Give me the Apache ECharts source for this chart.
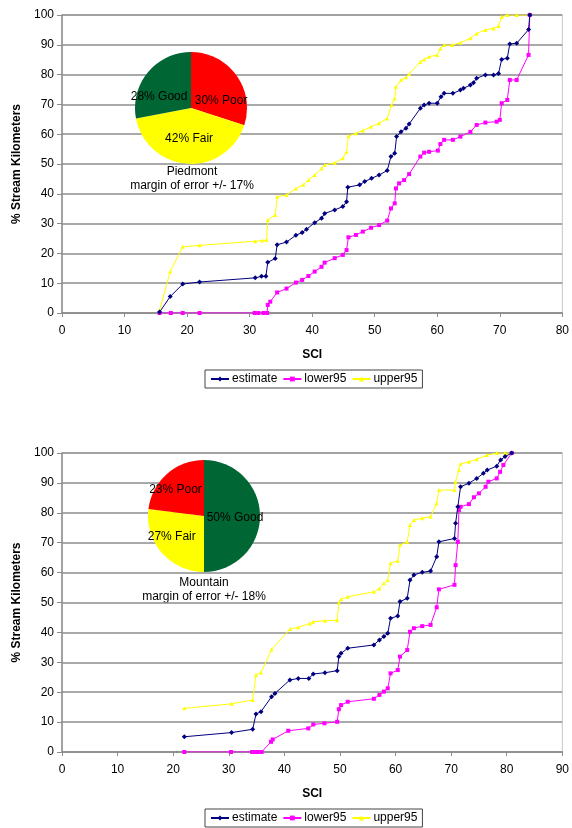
<!DOCTYPE html>
<html>
<head>
<meta charset="utf-8">
<script src="https://cdn.jsdelivr.net/npm/echarts@6/dist/echarts.min.js"></script>
<style>
  html, body { margin: 0; padding: 0; background: #fff; }
  #chart { width: 572px; height: 828px; }
</style>
</head>
<body>
<div id="chart"></div>
<script>
// Piedmont curves: [SCI, % stream km]
const piedmontEstimate = [[15.6,0.3],[17.3,5.5],[19.3,9.7],[22.0,10.4],[30.9,11.8],[31.9,12.3],[32.6,12.3],[32.9,17.0],[34.1,18.3],[34.4,22.9],[35.9,23.8],[37.4,26.1],[38.4,27.0],[39.1,28.1],[40.4,30.3],[41.5,31.8],[42.0,33.4],[43.6,34.6],[44.9,35.7],[45.5,37.3],[45.7,42.2],[47.6,43.0],[48.4,44.1],[49.5,45.2],[50.7,46.3],[52.0,47.8],[52.6,52.5],[53.2,53.6],[53.5,59.2],[54.2,60.8],[55.0,62.0],[55.5,63.4],[57.3,68.7],[57.9,69.8],[58.7,70.4],[60.0,70.4],[60.6,72.6],[61.1,73.7],[62.5,73.7],[63.7,74.8],[64.2,75.4],[65.3,76.5],[65.8,77.3],[66.3,78.8],[67.7,79.9],[69.0,79.9],[69.8,80.4],[70.3,85.1],[71.2,85.5],[71.6,90.3],[72.7,90.5],[74.6,95.1],[74.8,100]];
const piedmontLower = [[15.6,0],[17.4,0],[19.3,0],[22.0,0],[30.8,0],[31.4,0],[32.2,0],[32.8,0],[32.9,2.7],[33.3,3.8],[34.4,6.9],[35.9,8.2],[37.4,10.2],[38.4,11.1],[39.4,12.4],[40.4,13.9],[41.5,15.5],[42.0,16.9],[43.6,18.4],[44.9,19.5],[45.5,21.1],[45.8,25.4],[47.0,26.2],[48.1,27.3],[49.4,28.6],[50.7,29.5],[52.0,31.0],[52.6,35.1],[53.2,36.8],[53.4,41.8],[53.9,43.5],[54.7,44.6],[55.5,46.6],[57.3,52.5],[57.9,53.8],[58.7,54.1],[60.1,54.5],[60.5,56.7],[61.1,58.1],[62.5,58.1],[63.7,59.2],[65.3,60.8],[66.3,63.1],[67.7,63.9],[69.5,64.2],[70.0,64.8],[70.3,70.4],[71.2,71.5],[71.6,78.2],[72.7,78.2],[74.6,86.6],[74.8,100]];
const piedmontUpper = [[15.6,1.0],[17.3,13.9],[19.3,22.2],[22.0,22.7],[30.9,24.1],[32.0,24.3],[32.7,24.5],[32.9,31.2],[34.1,32.9],[34.4,39.0],[35.9,39.6],[37.4,41.8],[38.6,43.0],[39.4,44.6],[40.4,46.3],[41.5,48.5],[42.0,49.7],[43.6,50.4],[44.9,51.9],[45.5,54.1],[45.8,59.4],[47.0,60.3],[48.1,61.2],[49.4,62.5],[50.7,63.7],[52.0,65.3],[52.7,69.8],[53.2,72.0],[53.4,75.9],[54.2,78.2],[55.0,79.1],[55.5,80.2],[57.3,84.3],[57.9,85.1],[58.7,86.0],[60.0,86.6],[60.5,88.8],[61.1,89.9],[62.4,89.9],[63.7,90.7],[65.3,92.2],[66.3,93.8],[67.7,95.0],[69.0,95.5],[69.8,96.3],[70.3,99.4],[71.2,100],[72.7,100],[74.8,100]];

// Mountain curves
const mountainEstimate = [[22.0,5.1],[30.5,6.5],[34.3,7.6],[34.9,12.7],[35.8,13.5],[37.7,18.5],[38.3,19.6],[41.0,24.1],[42.5,24.6],[44.4,24.6],[45.2,26.1],[47.3,26.5],[49.5,27.2],[49.8,31.9],[50.2,33.0],[51.4,34.7],[56.1,35.8],[57.1,37.5],[57.9,38.6],[58.6,39.7],[59.1,44.7],[60.4,45.5],[60.8,50.3],[62.1,51.4],[62.6,57.5],[63.3,59.2],[64.8,60.1],[66.3,60.5],[67.4,65.3],[67.8,70.3],[70.6,71.4],[70.8,76.5],[71.2,82.0],[71.7,88.7],[73.2,89.9],[74.6,91.5],[75.8,93.2],[76.5,94.3],[78.2,95.6],[78.9,97.7],[79.7,98.8],[80.9,100]];
const mountainLower = [[22.0,0],[30.4,0],[34.2,0],[34.6,0],[35.2,0],[35.9,0],[37.6,3.4],[37.9,4.2],[40.7,7.1],[44.3,7.9],[45.2,9.2],[47.2,9.6],[49.5,10.1],[49.8,14.3],[50.2,15.7],[51.4,16.8],[56.1,17.8],[57.1,19.1],[57.9,20.2],[58.6,21.3],[59.1,26.3],[60.4,27.4],[60.8,31.9],[62.1,34.1],[62.6,40.2],[63.3,41.4],[64.8,42.1],[66.3,42.5],[67.4,48.4],[67.8,54.4],[70.6,55.9],[70.8,62.5],[71.2,70.3],[71.4,80.9],[71.7,82.0],[73.2,82.9],[74.1,85.2],[75.0,86.5],[76.2,88.7],[76.7,90.4],[78.2,91.5],[78.8,93.7],[79.4,96.0],[80.9,100]];
const mountainUpper = [[22.0,14.6],[30.5,16.1],[34.3,17.4],[34.9,25.8],[35.8,26.6],[37.7,34.3],[41.0,41.1],[42.5,41.7],[44.6,43.0],[45.2,43.6],[47.3,43.9],[49.5,44.1],[49.8,49.9],[50.2,51.1],[51.4,51.9],[56.1,53.6],[57.1,54.7],[57.9,56.4],[58.6,57.5],[59.1,63.1],[60.4,64.0],[60.8,69.2],[62.1,70.3],[62.6,75.9],[63.3,77.6],[64.8,78.2],[66.3,78.7],[67.4,83.2],[67.8,87.6],[70.6,87.6],[70.8,90.4],[71.4,94.3],[71.7,96.3],[73.2,97.1],[74.6,97.9],[76.4,99.3],[78.2,100],[79.7,100],[80.9,100]];

// condition pies
const conditionColors = { Poor: "#ff0000", Fair: "#ffff00", Good: "#006633" };
const piedmontShares = [["Poor", 30], ["Fair", 42], ["Good", 28]];
const mountainShares = [["Good", 50], ["Fair", 27], ["Poor", 23]];

const seriesNames = ["estimate", "lower95", "upper95"];
const xMax = [80, 90];

const FONT = "Liberation Sans, Arial, sans-serif";
const chart = echarts.init(document.getElementById("chart"));

const lineStyles = {
  estimate: { color: "#000080", symbol: "diamond", size: 5 },
  lower95: { color: "#ff00ff", symbol: "rect", size: 4 },
  upper95: { color: "#ffff00", symbol: "triangle", size: 4 },
};

function lineSeries(name, data, idx) {
  const s = lineStyles[name];
  return {
    name,
    type: "line",
    xAxisIndex: idx,
    yAxisIndex: idx,
    data,
    symbol: s.symbol,
    symbolSize: s.size,
    showSymbol: true,
    lineStyle: { color: s.color, width: 1 },
    itemStyle: { color: s.color },
    z: name === "estimate" ? 5 : 3,
  };
}

// small nudges so the slice labels sit where Excel put them
const piedmontNudge = { Poor: [5, 11], Fair: [0, 0], Good: [-8, 8] };
const mountainNudge = { Good: [0, 2], Fair: [-9, 0], Poor: [-8, -3] };

function pieSeries(shares, center, nudge) {
  return {
    type: "pie",
    center,
    radius: 56,
    startAngle: 90,
    clockwise: true,
    silent: true,
    avoidLabelOverlap: false,
    data: shares.map(([n, v]) => ({ name: n, value: v, itemStyle: { color: conditionColors[n] } })),
    label: {
      position: "inside",
      formatter: "{c}% {b}",
      color: "#000",
      fontFamily: FONT,
      fontSize: 12,
    },
    labelLine: { show: false },
    labelLayout: (p) => {
      const d = nudge[shares[p.dataIndex][0]];
      return { dx: d[0], dy: d[1], hideOverlap: false };
    },
    z: 10,
  };
}

const grids = [
  { left: 62, top: 15, width: 504, height: 298 },
  { left: 62, top: 453, width: 504, height: 299 },
];

function xAxis(idx) {
  return {
    type: "value",
    gridIndex: idx,
    min: 0,
    max: xMax[idx],
    interval: 10,
    name: "SCI",
    nameLocation: "middle",
    nameGap: 36,
    nameTextStyle: { fontFamily: FONT, fontSize: 12, fontWeight: "bold", color: "#000" },
    axisLine: { lineStyle: { color: "#8c8c8c", width: 1.5 } },
    axisTick: { lineStyle: { color: "#8c8c8c" }, length: 4 },
    axisLabel: { fontFamily: FONT, fontSize: 12, color: "#000", margin: 12 },
    splitLine: { show: false },
  };
}

function yAxis(idx) {
  return {
    type: "value",
    gridIndex: idx,
    min: 0,
    max: 100,
    interval: 10,
    name: "% Stream Kilometers",
    nameLocation: "middle",
    nameGap: 38,
    nameTextStyle: { fontFamily: FONT, fontSize: 12, fontWeight: "bold", color: "#000" },
    axisLine: { show: true, lineStyle: { color: "#8c8c8c", width: 1.5 } },
    axisTick: { show: true, lineStyle: { color: "#8c8c8c" }, length: 5 },
    axisLabel: { fontFamily: FONT, fontSize: 12, color: "#000", margin: 8 },
    splitLine: { lineStyle: { color: "#8c8c8c", width: 1.5 } },
  };
}

function legend(top) {
  return {
    data: seriesNames,
    top,
    left: 205,
    itemWidth: 18,
    itemHeight: 6,
    itemGap: 5,
    padding: [3, 5],
    borderColor: "#444",
    borderWidth: 1,
    textStyle: { fontFamily: FONT, fontSize: 12, color: "#000", padding: [0, 0, 0, -2] },
  };
}

function caption(text, x, y) {
  return {
    type: "text",
    x, y,
    style: { text, align: "center", textAlign: "center", verticalAlign: "top", font: "12px " + FONT, fill: "#000", lineHeight: 14 },
  };
}

chart.setOption({
  animation: false,
  backgroundColor: "#fff",
  grid: grids.map(g => ({ ...g, show: true, borderColor: "#c8c8c8", borderWidth: 1, backgroundColor: "#fff" })),
  xAxis: [xAxis(0), xAxis(1)],
  yAxis: [yAxis(0), yAxis(1)],
  legend: [legend(370), legend(809)],
  graphic: [
    caption("Piedmont\nmargin of error +/- 17%", 192, 165),
    caption("Mountain\nmargin of error +/- 18%", 204, 576),
  ],
  series: [
    lineSeries("upper95", piedmontUpper, 0),
    lineSeries("lower95", piedmontLower, 0),
    lineSeries("estimate", piedmontEstimate, 0),
    lineSeries("upper95", mountainUpper, 1),
    lineSeries("lower95", mountainLower, 1),
    lineSeries("estimate", mountainEstimate, 1),
    pieSeries(piedmontShares, [191, 108], piedmontNudge),
    pieSeries(mountainShares, [204, 516], mountainNudge),
  ],
});
</script>
</body>
</html>
